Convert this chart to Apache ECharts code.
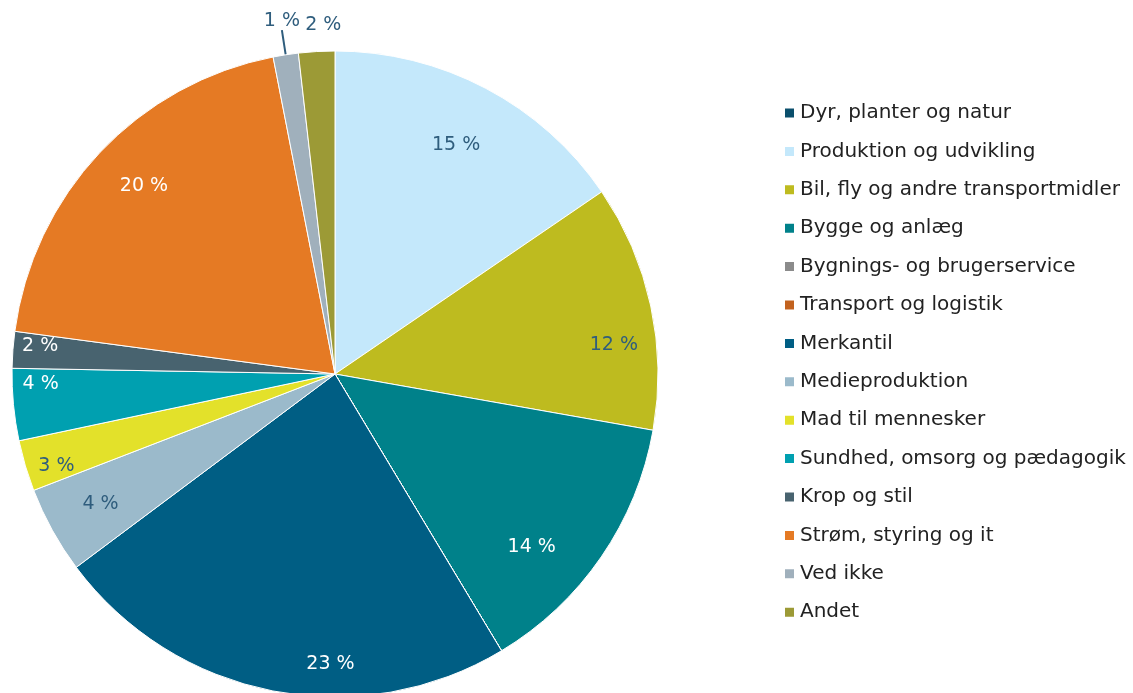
<!DOCTYPE html>
<html>
<head>
<meta charset="utf-8">
<script src="https://cdn.jsdelivr.net/npm/echarts@6/dist/echarts.min.js"></script>
<style>
html,body{margin:0;padding:0;background:#fff;}
#chart{width:1133px;height:693px;}
</style>
</head>
<body>
<div id="chart"></div>
<script>
// ---- data ----
var categories = [
  'Dyr, planter og natur',
  'Produktion og udvikling',
  'Bil, fly og andre transportmidler',
  'Bygge og anlæg',
  'Bygnings- og brugerservice',
  'Transport og logistik',
  'Merkantil',
  'Medieproduktion',
  'Mad til mennesker',
  'Sundhed, omsorg og pædagogik',
  'Krop og stil',
  'Strøm, styring og it',
  'Ved ikke',
  'Andet'
];
var shares = [0, 15.47, 12.33, 13.6, 0, 0, 23.42, 4.35, 2.55, 3.6, 1.83, 19.83, 1.26, 1.81];

// ---- styling ----
var colors = ['#0b4f6c','#c4e8fb','#bebb1f','#00818a','#8b8b8b','#c2621f','#005e84',
              '#9bbacb','#e3e12a','#00a0b0','#48636f','#e57a24','#a0b0bc','#9c9a36'];
var darkText = '#2f5d7d';
var whiteLabel = {'Bygge og anlæg':1,'Merkantil':1,'Sundhed, omsorg og pædagogik':1,'Krop og stil':1,'Strøm, styring og it':1};
var outerRing = {'Merkantil':1,'Mad til mennesker':1,'Sundhed, omsorg og pædagogik':1,'Krop og stil':1};
var outsideLabel = {'Ved ikke':1,'Andet':1};
var labelShift = {
  'Produktion og udvikling':[-4,8],
  'Merkantil':[52,2],
  'Bygge og anlæg':[-24,21],
  'Bil, fly og andre transportmidler':[17,27],
  'Sundhed, omsorg og pædagogik':[-2,-18],
  'Mad til mennesker':[3,9],
  'Krop og stil':[-2,-6],
  'Strøm, styring og it':[4,-4]
};
var FONT = 'DejaVu Sans, Verdana, sans-serif';
var R = 323;
var CENTER = [335, 374];

function pct(v){ return Math.round(v) + ' %'; }

var visibleData = categories.map(function(n,i){
  var d = {name:n, value:shares[i], itemStyle:{color:colors[i]}};
  if (outsideLabel[n]) {
    d.label = {show:true, position:'outside', color:darkText, fontSize:19, fontFamily:FONT, distanceToLabelLine:0};
    d.labelLine = {show: n === 'Ved ikke', length:25, length2:0, lineStyle:{color:'#2f5d7d', width:2}};
  }
  return d;
});

function ringData(useOuter){
  return categories.map(function(n,i){
    var show = shares[i] > 0 && !outsideLabel[n] && (!!outerRing[n] === useOuter);
    return {name:n, value:shares[i], label:{show:show, color: whiteLabel[n] ? '#ffffff' : darkText}};
  });
}

function shiftLayout(params){
  var n = categories[params.dataIndex];
  var s = labelShift[n];
  if (s) return {dx:s[0], dy:s[1]};
  return {};
}

var chart = echarts.init(document.getElementById('chart'), null, {renderer:'canvas'});
chart.setOption({
  backgroundColor:'#ffffff',
  animation:false,
  legend:{
    orient:'vertical',
    left:778, top:98,
    padding:5,
    itemWidth:11, itemHeight:11, itemGap:18.4,
    icon:'rect',
    selectedMode:false,
    data: categories,
    textStyle:{fontFamily:FONT, fontSize:20, color:'#222222', lineHeight:20}
  },
  series:[
    {
      type:'pie',
      center:CENTER,
      radius:R,
      startAngle:90,
      clockwise:true,
      avoidLabelOverlap:false,
      silent:true,
      itemStyle:{borderColor:'#ffffff', borderWidth:1},
      label:{show:false, formatter:function(p){return pct(p.value);}},
      labelLine:{show:false},
      labelLayout:function(params){
        var isAndet = categories[params.dataIndex]==='Andet';
        return {align:'center', verticalAlign:'bottom', dx: isAndet ? 8 : 0, dy: isAndet ? 8 : 0};
      },
      emphasis:{disabled:true},
      data: visibleData
    },
    {
      type:'pie',
      center:CENTER,
      radius:[R*0.64, R],
      startAngle:90,
      clockwise:true,
      silent:true,
      avoidLabelOverlap:false,
      itemStyle:{color:'rgba(0,0,0,0)', borderWidth:0},
      label:{position:'inside', fontSize:19, fontFamily:FONT, formatter:function(p){return p.value>0?pct(p.value):'';}},
      labelLine:{show:false},
      labelLayout:shiftLayout,
      emphasis:{disabled:true},
      data: ringData(false)
    },
    {
      type:'pie',
      center:CENTER,
      radius:[R*0.8, R],
      startAngle:90,
      clockwise:true,
      silent:true,
      avoidLabelOverlap:false,
      itemStyle:{color:'rgba(0,0,0,0)', borderWidth:0},
      label:{position:'inside', fontSize:19, fontFamily:FONT, formatter:function(p){return p.value>0?pct(p.value):'';}},
      labelLine:{show:false},
      labelLayout:shiftLayout,
      emphasis:{disabled:true},
      data: ringData(true)
    }
  ]
});
</script>
</body>
</html>
